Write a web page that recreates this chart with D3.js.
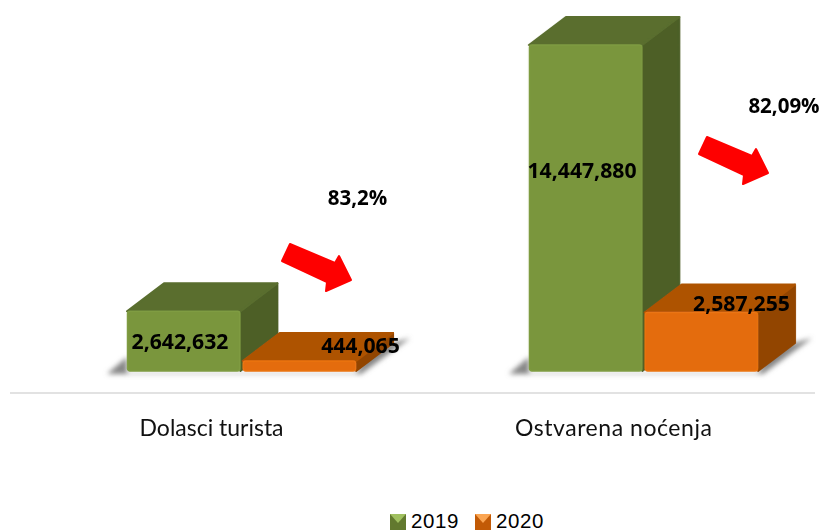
<!DOCTYPE html>
<html><head><meta charset="utf-8">
<script src="https://cdnjs.cloudflare.com/ajax/libs/d3/7.8.5/d3.min.js"></script>
<style>html,body{margin:0;background:#fff}svg{display:block}</style></head>
<body><svg id="c" width="822" height="532"></svg>
<script>
const categories = ["Dolasci turista", "Ostvarena noćenja"];
const seriesNames = ["2019", "2020"];
const values2019 = [2642632, 14447880];
const values2020 = [444065, 2587255];
const changeLabels = ["83,2%", "82,09%"];
const numberLabels2019 = ["2,642,632", "14,447,880"];
const numberLabels2020 = ["444,065", "2,587,255"];

const W = 822, H = 532, baseY = 371, depthX = 37, depthY = 28;
const palette = {
  "2019": {front:"#7a963c", top:"#5a6e2f", side:"#4d5f28", edge:"#7f9c42", dark:"#62792f", light:"#a0c060"},
  "2020": {front:"#e46c0a", top:"#ae5306", side:"#924504", edge:"#ea7412", dark:"#c25a06", light:"#fba552"}
};
const bold = "'Open Sans', sans-serif";
const svg = d3.select("#c");
const defs = svg.append("defs");
defs.append("filter").attr("id","blur").attr("x","-20%").attr("y","-50%").attr("width","140%").attr("height","200%")
  .append("feGaussianBlur").attr("stdDeviation",2.6);
defs.append("filter").attr("id","soft").append("feGaussianBlur").attr("stdDeviation",0.4);

const x0 = d3.scaleBand().domain(categories).range([127,758]).paddingInner(0.43);
const x1 = d3.scaleBand().domain(seriesNames).range([0,x0.bandwidth()]).paddingInner(0.02);
const y = d3.scaleLinear().domain([0,14447880]).range([baseY,45]);
const poly = d3.line();

const rows = categories.map((c,i)=>({c,i,bars:[
  {s:"2019",v:values2019[i],label:numberLabels2019[i]},
  {s:"2020",v:values2020[i],label:numberLabels2020[i]}]}));

// floor shadow
svg.selectAll("path.shadow").data(rows).join("path").attr("class","shadow")
  .attr("d",r=>{
    const l=x0(r.c), rr=l+x0.bandwidth();
    return poly([[l-20,baseY+3],[l,baseY-14],[l,baseY+2],[rr,baseY+2],[rr+15,baseY-22],[rr+54,baseY-33],[rr+5,baseY+3]])+"Z";
  }).attr("fill","#858585").attr("filter","url(#blur)");

// axis line
svg.append("line").attr("x1",10).attr("x2",815).attr("y1",393).attr("y2",393)
  .attr("stroke","#e2e2e2").attr("stroke-width",2);

// bars
const groups = svg.selectAll("g.grp").data(rows).join("g").attr("class","grp")
  .attr("transform",r=>`translate(${x0(r.c)},0)`).attr("filter","url(#soft)");
const bars = groups.selectAll("g.bar").data(r=>r.bars).join("g").attr("class","bar")
  .attr("transform",d=>`translate(${x1(d.s)},0)`);
const bw = x1.bandwidth();
bars.append("path").attr("fill",d=>palette[d.s].side).attr("stroke",d=>palette[d.s].side).attr("stroke-linejoin","round").attr("stroke-width",2)
  .attr("d",d=>poly([[bw,y(d.v)],[bw+depthX,y(d.v)-depthY],[bw+depthX,baseY-depthY],[bw,baseY]])+"Z");
bars.append("path").attr("fill",d=>palette[d.s].top).attr("stroke",d=>palette[d.s].top).attr("stroke-linejoin","round").attr("stroke-width",2)
  .attr("d",d=>poly([[0,y(d.v)],[depthX,y(d.v)-depthY],[bw+depthX,y(d.v)-depthY],[bw,y(d.v)]])+"Z");
bars.append("rect").attr("x",0.5).attr("width",bw-1).attr("y",d=>y(d.v)).attr("height",d=>baseY-y(d.v)).attr("rx",2.5)
  .attr("fill",d=>palette[d.s].front).attr("stroke",d=>palette[d.s].edge).attr("stroke-width",1.5);

// number labels
const labelPlace = {"2,642,632":[180,349],"14,447,880":[582,178],"444,065":[360.5,353],"2,587,255":[741.5,311]};
svg.selectAll("text.num").data(rows.flatMap(r=>r.bars)).join("text").attr("class","num")
  .attr("x",d=>labelPlace[d.label][0]).attr("y",d=>labelPlace[d.label][1])
  .attr("text-anchor","middle").attr("font-family",bold).attr("font-weight",700).attr("font-size",21.2).attr("fill","#000")
  .text(d=>d.label);

// category labels
const catWidths = [144,197];
svg.selectAll("text.cat").data(categories).join("text").attr("class","cat")
  .attr("x",c=>x0(c)+x0.bandwidth()/2-30).attr("y",436)
  .attr("text-anchor","middle").attr("font-family","Lato, sans-serif").attr("font-size",23).attr("fill","#111")
  .attr("textLength",(c,i)=>catWidths[i]).attr("lengthAdjust","spacing")
  .text(c=>c);

// change arrows and labels
const arrowShape = [[290,244],[335,263],[339,256],[351,280],[326,291],[327,282],[282,261]];
const arrowShift = [[0,0],[417,-107]];
svg.selectAll("path.arrow").data(arrowShift).join("path").attr("class","arrow")
  .attr("d",poly(arrowShape)+"Z").attr("transform",d=>`translate(${d[0]},${d[1]})`)
  .attr("fill","#fe0000").attr("stroke","#fe0000").attr("stroke-width",2).attr("stroke-linejoin","round");
const changePlace = [[357.5,205],[784,113]];
svg.selectAll("text.chg").data(changeLabels).join("text").attr("class","chg")
  .attr("x",(d,i)=>changePlace[i][0]).attr("y",(d,i)=>changePlace[i][1])
  .attr("text-anchor","middle").attr("font-family",bold).attr("font-weight",700).attr("font-size",20.5).attr("fill","#000")
  .text(d=>d);

// legend
const lx = d3.scaleOrdinal().domain(seriesNames).range([390,475]);
const lg = svg.selectAll("g.leg").data(seriesNames).join("g").attr("class","leg")
  .attr("transform",s=>`translate(${lx(s)},514)`);
const sz = 16;
lg.append("rect").attr("width",sz).attr("height",sz).attr("fill",s=>palette[s].dark);
lg.append("path").attr("d",poly([[0,0],[sz,0],[sz/2,sz/2+1]])+"Z").attr("fill",s=>palette[s].light);
lg.append("text").attr("x",21).attr("y",13.5).attr("font-family","'Liberation Sans', sans-serif").attr("font-size",20.5).attr("letter-spacing",0.6).attr("fill","#000").text(s=>s);
</script></body></html>
